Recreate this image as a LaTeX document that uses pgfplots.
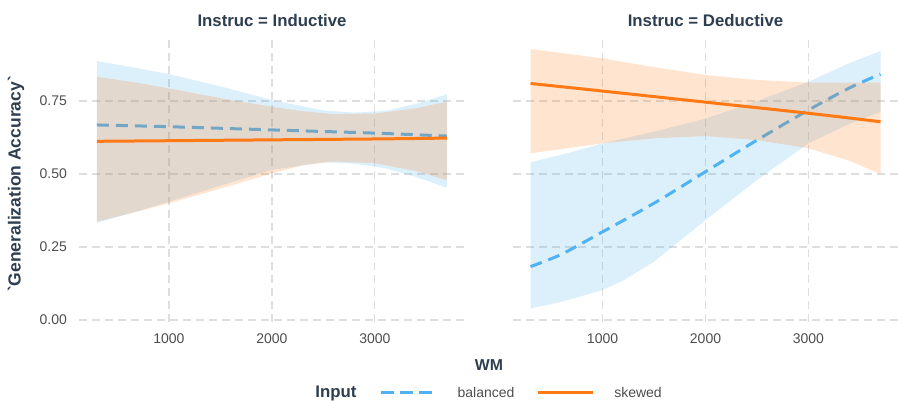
\documentclass[border=0pt]{standalone}
\usepackage{pgfplots}
\pgfplotsset{compat=1.18}
\usepackage{fontspec}
\setmainfont{Liberation Sans}
\setsansfont{Liberation Sans}
\newfontfamily\plainsans[Ligatures=ResetAll]{Liberation Sans}

\definecolor{balc}{RGB}{80,178,240}
\definecolor{skwc}{RGB}{255,122,20}
\definecolor{titc}{RGB}{44,62,80}
\definecolor{tickc}{RGB}{77,77,77}
\definecolor{gridc}{RGB}{222,222,222}

\pgfplotsset{
  panel/.style={
    scale only axis, width=385pt, height=283.3pt,
    xmin=130, xmax=3870, ymin=-0.005, ymax=0.965,
    axis line style={draw=none}, major tick length=0pt,
    xtick={1000,2000,3000}, ytick={0,0.25,0.5,0.75},
    grid=major, major grid style={gridc, line width=1.3pt, dash pattern=on 8pt off 5pt},
    /pgf/number format/assume math mode=true,
    xticklabel style={font=\fontsize{14}{16}\selectfont, text=tickc, yshift=-9pt, /pgf/number format/1000 sep={}},
    yticklabel style={font=\fontsize{14}{16}\selectfont, text=tickc, xshift=-9pt, /pgf/number format/fixed, /pgf/number format/fixed zerofill, /pgf/number format/precision=2},
    clip=false,
  },
  bband/.style={fill=balc, fill opacity=0.2, draw=none},
  sband/.style={fill=skwc, fill opacity=0.2, draw=none},
  bline/.style={balc, line width=3pt, dash pattern=on 12pt off 7pt, smooth},
  sline/.style={skwc, line width=3pt, smooth},
}

\begin{document}
\begin{tikzpicture}
\path[use as bounding box] (0,0) rectangle (898pt,400pt);

% Inductive
\begin{axis}[panel, at={(79.4pt,78.5pt)}, anchor=south west]
\addplot[bband] coordinates {(300,0.887) (700,0.862) (1000,0.842) (1500,0.800) (2000,0.753) (2500,0.718) (2800,0.710) (3100,0.716) (3400,0.740) (3700,0.773)
  (3700,0.453) (3400,0.490) (3100,0.520) (2800,0.535) (2500,0.540) (2000,0.514) (1500,0.460) (1000,0.405) (700,0.373) (300,0.333)} -- cycle;
\addplot[bline] coordinates {(300,0.668) (1000,0.662) (2000,0.651) (3000,0.640) (3700,0.630)};
\addplot[sband] coordinates {(300,0.833) (700,0.812) (1000,0.793) (1500,0.760) (2000,0.730) (2300,0.715) (2600,0.705) (3000,0.707) (3400,0.725) (3700,0.748)
  (3700,0.479) (3400,0.510) (3000,0.537) (2600,0.543) (2300,0.530) (2000,0.502) (1500,0.450) (1000,0.400) (700,0.372) (300,0.337)} -- cycle;
\addplot[sline] coordinates {(300,0.612) (1000,0.614) (2000,0.617) (3000,0.620) (3700,0.623)};
\end{axis}

% Deductive
\begin{axis}[panel, at={(513pt,78.5pt)}, anchor=south west, yticklabels={}]
\addplot[bband] coordinates {(300,0.540) (700,0.575) (1000,0.605) (1500,0.645) (2000,0.690) (2500,0.750) (3000,0.816) (3400,0.880) (3700,0.921)
  (3700,0.713) (3400,0.672) (3000,0.605) (2500,0.479) (2000,0.342) (1500,0.200) (1200,0.135) (1000,0.103) (600,0.062) (300,0.040)} -- cycle;
\addplot[bline] coordinates {(300,0.183) (600,0.225) (1000,0.302) (1500,0.400) (2000,0.508) (2500,0.616) (3000,0.719) (3400,0.795) (3700,0.842)};
\addplot[sband] coordinates {(300,0.928) (1000,0.896) (1500,0.866) (2000,0.839) (2500,0.822) (3000,0.813) (3700,0.813)
  (3700,0.500) (3400,0.545) (3000,0.588) (2500,0.616) (2000,0.630) (1500,0.622) (1000,0.605) (300,0.571)} -- cycle;
\addplot[sline] coordinates {(300,0.810) (1000,0.784) (2000,0.746) (3000,0.708) (3700,0.679)};
\end{axis}

% titles and labels
\node[font=\bfseries\fontsize{16.8}{19}\selectfont, text=titc] at (272pt,380pt) {Instruc = Inductive};
\node[font=\bfseries\fontsize{16.8}{19}\selectfont, text=titc] at (705.5pt,380pt) {Instruc = Deductive};
\node[font=\plainsans\bfseries\fontsize{17.5}{20}\selectfont, text=titc, rotate=90] at (16pt,216pt) {`Generalization Accuracy`};
\node[font=\bfseries\fontsize{15.8}{18}\selectfont, text=titc] at (489pt,35pt) {WM};

% legend
\node[font=\bfseries\fontsize{16.8}{19}\selectfont, text=titc] at (336pt,7pt) {Input};
\draw[balc, line width=3pt, dash pattern=on 13pt off 6pt] (381pt,8pt) -- (435pt,8pt);
\node[font=\fontsize{14}{16}\selectfont, text=tickc] at (486pt,8pt) {balanced};
\draw[skwc, line width=3pt] (538pt,8pt) -- (593pt,8pt);
\node[font=\fontsize{14}{16}\selectfont, text=tickc] at (638pt,8pt) {skewed};
\end{tikzpicture}
\end{document}
